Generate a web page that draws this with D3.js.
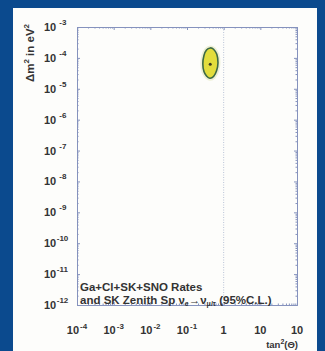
<!DOCTYPE html>
<html>
<head>
<meta charset="utf-8">
<script src="https://cdn.jsdelivr.net/npm/d3@7"></script>
<style>
    body { margin: 0; background: #0b4a8e; }
    svg { display: block; font-family: "Liberation Sans", Arial, sans-serif; }
</style>
</head>
<body>
<svg id="chart" width="325" height="351"></svg>
<script>
    // axis ticks
    var xTickValues = [1e-4, 1e-3, 1e-2, 1e-1, 1, 10, 100];
    var xTickBase = ["10", "10", "10", "10", "1", "10", "10"];
    var xTickSup = ["-4", "-3", "-2", "-1", "", "", ""];

    var yTickValues = [1e-3, 1e-4, 1e-5, 1e-6, 1e-7, 1e-8, 1e-9, 1e-10, 1e-11, 1e-12];
    var yTickSup = ["-3", "-4", "-5", "-6", "-7", "-8", "-9", "-10", "-11", "-12"];

    // 95% C.L. allowed region (LMA)
    var contourTan2 = [0.70, 0.65, 0.53, 0.43, 0.34, 0.29, 0.27, 0.29, 0.34, 0.42, 0.53, 0.64];
    var contourDm2 = [7.0e-5, 1.3e-4, 1.9e-4, 2.1e-4, 1.8e-4, 1.2e-4, 6.5e-5, 3.6e-5, 2.6e-5, 2.2e-5, 2.5e-5, 3.8e-5];

    var bestFitTan2 = [0.43];
    var bestFitDm2 = [6.2e-5];

    var svg = d3.select("#chart"),
        margin = { top: 27, right: 28, bottom: 46, left: 77 },
        width = +svg.attr("width") - margin.left - margin.right,
        height = +svg.attr("height") - margin.top - margin.bottom;

    svg.append("rect").attr("width", 325).attr("height", 351).attr("fill", "#0b4a8e");
    svg.append("rect")
        .attr("x", 13).attr("y", 8)
        .attr("width", 304).attr("height", 343)
        .attr("fill", "#fdfdfb");

    var x = d3.scaleLog().domain([1e-4, 100]).range([0, width]),
        y = d3.scaleLog().domain([1e-12, 1e-3]).range([height, 0]);

    var g = svg.append("g")
        .attr("transform", "translate(" + margin.left + "," + margin.top + ")");

    var axisColor = "#8592bd";
    var textColor = "#333333";

    // minor tick values
    var xMinor = [], yMinor = [];
    xTickValues.slice(0, -1).forEach(function (v) {
        for (var k = 2; k < 10; k++) xMinor.push(v * k);
    });
    yTickValues.slice(1).forEach(function (v) {
        for (var k = 2; k < 10; k++) yMinor.push(v * k);
    });

    // dotted line at tan^2 = 1
    g.append("line")
        .attr("x1", x(1)).attr("x2", x(1))
        .attr("y1", 0).attr("y2", height)
        .attr("stroke", "#b9c3d6")
        .attr("stroke-width", 1)
        .attr("stroke-dasharray", "1,1.5");

    // frame axes with ticks
    function styleAxis(sel) {
        sel.selectAll("path").attr("stroke", axisColor);
        sel.selectAll("line").attr("stroke", axisColor);
        sel.selectAll("text").remove();
    }

    g.append("g").attr("transform", "translate(0," + height + ")")
        .call(d3.axisTop(x).tickValues(xTickValues).tickSize(3).tickSizeOuter(0)).call(styleAxis);
    g.append("g").attr("transform", "translate(0," + height + ")")
        .call(d3.axisTop(x).tickValues(xMinor).tickSize(1.5).tickSizeOuter(0)).call(styleAxis);
    g.append("g")
        .call(d3.axisBottom(x).tickValues(xTickValues).tickSize(3).tickSizeOuter(0)).call(styleAxis)
        .select("path").attr("stroke-dasharray", "2,1");
    g.append("g")
        .call(d3.axisBottom(x).tickValues(xMinor).tickSize(1.5).tickSizeOuter(0)).call(styleAxis);

    g.append("g")
        .call(d3.axisRight(y).tickValues(yTickValues).tickSize(3).tickSizeOuter(0)).call(styleAxis);
    g.append("g")
        .call(d3.axisRight(y).tickValues(yMinor).tickSize(1.5).tickSizeOuter(0)).call(styleAxis);
    g.append("g").attr("transform", "translate(" + width + ",0)")
        .call(d3.axisLeft(y).tickValues(yTickValues).tickSize(3).tickSizeOuter(0)).call(styleAxis);
    g.append("g").attr("transform", "translate(" + width + ",0)")
        .call(d3.axisLeft(y).tickValues(yMinor).tickSize(1.5).tickSizeOuter(0)).call(styleAxis);

    // tick labels
    var xLabels = g.append("g").selectAll("text")
        .data(xTickValues)
        .enter().append("text")
        .attr("x", function (d) { return x(d); })
        .attr("y", height + 29)
        .attr("text-anchor", "middle")
        .attr("font-size", 11)
        .attr("font-weight", "bold")
        .attr("fill", textColor);
    xLabels.append("tspan").text(function (d, i) { return xTickBase[i]; });
    xLabels.append("tspan")
        .attr("dy", -5).attr("dx", 1)
        .attr("font-size", 8)
        .text(function (d, i) { return xTickSup[i]; });

    var yLabels = g.append("g").selectAll("text")
        .data(yTickValues)
        .enter().append("text")
        .attr("x", -33)
        .attr("y", function (d) { return y(d) + 4; })
        .attr("font-size", 11)
        .attr("font-weight", "bold")
        .attr("fill", textColor);
    yLabels.append("tspan").text("10");
    yLabels.append("tspan")
        .attr("dy", -6)
        .attr("dx", function (d, i) { return i < 7 ? 3 : 0.5; })
        .attr("font-size", 8)
        .text(function (d, i) { return yTickSup[i]; });

    // allowed region
    var contour = contourTan2.map(function (t, i) { return [t, contourDm2[i]]; });
    var line = d3.line()
        .x(function (d) { return x(d[0]); })
        .y(function (d) { return y(d[1]); })
        .curve(d3.curveCardinalClosed.tension(0.2));

    g.append("path")
        .datum(contour)
        .attr("d", line)
        .attr("fill", "none")
        .attr("stroke", "#eef0d6")
        .attr("stroke-width", 5);
    g.append("path")
        .datum(contour)
        .attr("d", line)
        .attr("fill", "#e2dd3c")
        .attr("stroke", "#3d6a45")
        .attr("stroke-width", 1.6);

    g.selectAll(".best")
        .data(bestFitTan2)
        .enter().append("circle")
        .attr("class", "best")
        .attr("cx", function (d) { return x(d); })
        .attr("cy", function (d, i) { return y(bestFitDm2[i]); })
        .attr("r", 1.5)
        .attr("fill", "#3b3a1e");

    // annotation
    var note = g.append("text")
        .attr("x", 3)
        .attr("font-size", 11.5)
        .attr("font-weight", "bold")
        .attr("fill", textColor);
    note.append("tspan").attr("x", 3).attr("y", height - 14).text("Ga+Cl+SK+SNO Rates");
    var l2 = note.append("tspan").attr("x", 3).attr("y", height - 1);
    l2.append("tspan").text("and SK Zenith Sp ν");
    l2.append("tspan").attr("font-size", 7).attr("dy", 2).text("e");
    l2.append("tspan").attr("dy", -2).text("→ν");
    l2.append("tspan").attr("font-size", 7).attr("dy", 2).text("μ/τ");
    l2.append("tspan").attr("dy", -2).text(" (95%C.L.)");

    // axis titles
    var yTitle = svg.append("text")
        .attr("transform", "translate(34,53) rotate(-90)")
        .attr("text-anchor", "middle")
        .attr("font-size", 11.5)
        .attr("font-weight", "bold")
        .attr("fill", textColor);
    yTitle.append("tspan").text("Δm");
    yTitle.append("tspan").attr("font-size", 8).attr("dy", -5).text("2");
    yTitle.append("tspan").attr("dy", 5).text(" in eV");
    yTitle.append("tspan").attr("font-size", 8).attr("dy", -5).text("2");

    var xTitle = svg.append("text")
        .attr("x", 298).attr("y", 348)
        .attr("text-anchor", "end")
        .attr("font-size", 9.5)
        .attr("font-weight", "bold")
        .attr("fill", textColor);
    xTitle.append("tspan").text("tan");
    xTitle.append("tspan").attr("font-size", 7).attr("dy", -4).text("2");
    xTitle.append("tspan").attr("dy", 4).text("(Θ)");
</script>
</body>
</html>
